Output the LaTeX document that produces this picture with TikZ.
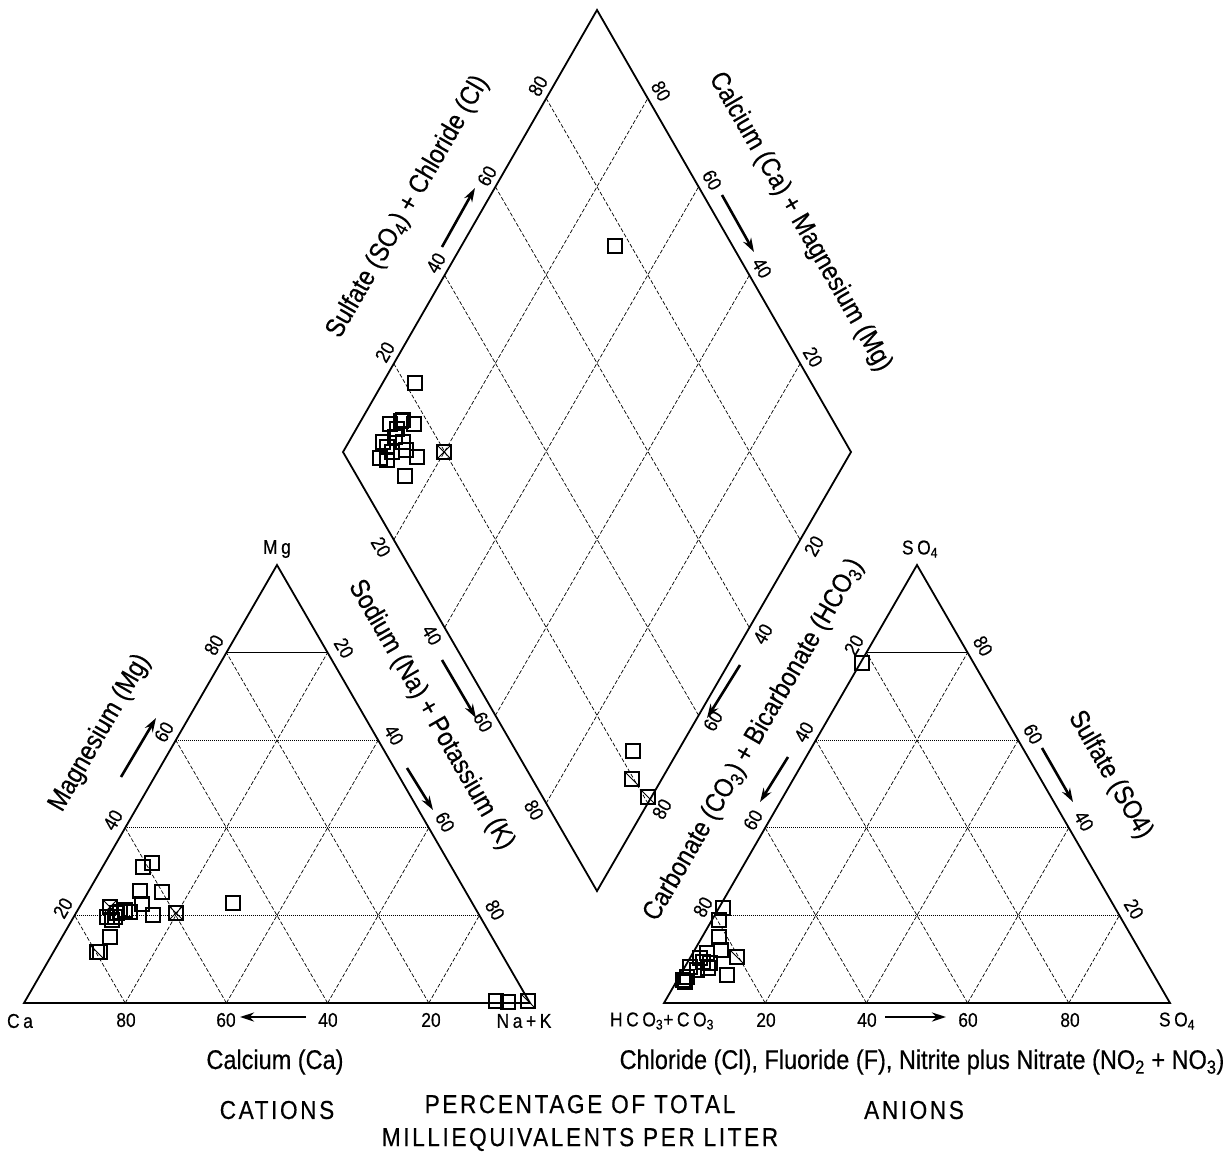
\documentclass[tikz,border=0pt]{standalone}
\usepackage{fontspec}
\setmainfont{Liberation Sans}[FakeStretch=0.87,FakeBold=0.4]
\usetikzlibrary{calc,arrows.meta}
\begin{document}
\begin{tikzpicture}[x=1pt,y=-1pt,
  frame/.style={line width=1.8pt, line join=miter},
  gridd/.style={line width=0.7pt, dash pattern=on 4pt off 2pt},
  gridh/.style={line width=0.7pt, dash pattern=on 1.2pt off 0.8pt},
  tick/.style={font=\fontsize{20}{20}\selectfont, inner sep=0pt},
  corner/.style={font=\fontsize{20}{20}\selectfont\addfontfeature{LetterSpace=18}, inner sep=0pt},
  axt/.style={font=\fontsize{27}{27}\selectfont, inner sep=0pt},
  big/.style={font=\fontsize{26}{33}\selectfont\addfontfeature{LetterSpace=10}, inner sep=0pt, align=center},
  arr/.style={line width=2.6pt, -{Stealth[length=14pt,width=9pt]}},
  pt/.style={draw, line width=1.3pt, minimum size=14pt, inner sep=0pt},
  pts/.style={pt, path picture={\draw[line width=0.8pt] (path picture bounding box.north west) -- (path picture bounding box.south east);}},
  ptx/.style={pt, path picture={\draw[line width=0.8pt] (path picture bounding box.north west) -- (path picture bounding box.south east) (path picture bounding box.north east) -- (path picture bounding box.south west);}}
]
\useasboundingbox (0,0) rectangle (1224,1152);
% ---------- corners ----------
\coordinate (Ca) at (24,1003);
\coordinate (NK) at (530,1003);
\coordinate (Mg) at (277,565);
\coordinate (HC) at (664,1003);
\coordinate (SR) at (1170,1003);
\coordinate (SA) at (917,565);
\coordinate (Dt) at (597,10);
\coordinate (Dl) at (343,452);
\coordinate (Dr) at (851,452);
\coordinate (Db) at (597,891);
% ---------- grids ----------
\foreach \k in {0.2,0.4,0.6,0.8}{
  \draw[gridh] ($(Ca)!\k!(Mg)$) -- ($(NK)!\k!(Mg)$);
  \draw[gridd] ($(Ca)!\k!(NK)$) -- ($(Mg)!\k!(NK)$);
  \draw[gridd] ($(NK)!\k!(Ca)$) -- ($(Mg)!\k!(Ca)$);
  \draw[gridh] ($(HC)!\k!(SA)$) -- ($(SR)!\k!(SA)$);
  \draw[gridd] ($(HC)!\k!(SR)$) -- ($(SA)!\k!(SR)$);
  \draw[gridd] ($(SR)!\k!(HC)$) -- ($(SA)!\k!(HC)$);
  \draw[gridd] ($(Dl)!\k!(Db)$) -- ($(Dt)!\k!(Dr)$);
  \draw[gridd] ($(Dt)!\k!(Dl)$) -- ($(Dr)!\k!(Db)$);
}
\draw[frame] (Ca) -- (NK) -- (Mg) -- cycle;
\draw[frame] (HC) -- (SR) -- (SA) -- cycle;
\draw[frame] (Dt) -- (Dr) -- (Db) -- (Dl) -- cycle;
% ---------- corner labels ----------
\node[corner] (lMg) at (277,549) {Mg};
\node[corner] (lCa) at (20,1021) {Ca};
\node[corner] (lNK) at (524,1021) {Na+K};
\node[corner] (lSA) at (920,549) {SO\textsubscript{4}};
\node[corner] (lHC) at (662,1021) {HCO\textsubscript{3}+CO\textsubscript{3}};
\node[corner] (lSR) at (1177,1021) {SO\textsubscript{4}};
% ---------- tick labels ----------
% left triangle
\foreach \v/\x/\y in {20/63/908, 40/113/820, 60/164/732, 80/214/645}
  \node[tick, rotate=60] (tL\v) at (\x,\y) {\v};
\foreach \v/\x/\y in {20/344/648, 40/394/735, 60/445/822, 80/495/910}
  \node[tick, rotate=-60] (tR\v) at (\x,\y) {\v};
\foreach \v/\x in {80/126, 60/226, 40/328, 20/431}
  \node[tick] (tB\v) at (\x,1020) {\v};
% right triangle
\foreach \v/\x/\y in {20/854/645, 40/804/732, 60/753/820, 80/703/907}
  \node[tick, rotate=60] (sL\v) at (\x,\y) {\v};
\foreach \v/\x/\y in {80/983/646, 60/1033/734, 40/1084/821, 20/1134/909}
  \node[tick, rotate=-60] (sR\v) at (\x,\y) {\v};
\foreach \v/\x in {20/766, 40/867, 60/968, 80/1070}
  \node[tick] (sB\v) at (\x,1020) {\v};
% diamond
\foreach \v/\x/\y in {20/385/352, 40/436/263, 60/487/176, 80/538/86}
  \node[tick, rotate=60] (dUL\v) at (\x,\y) {\v};
\foreach \v/\x/\y in {80/661/91, 60/712/180, 40/762/268, 20/813/357}
  \node[tick, rotate=-60] (dUR\v) at (\x,\y) {\v};
\foreach \v/\x/\y in {20/381/547, 40/432/635, 60/483/722, 80/534/810}
  \node[tick, rotate=-60] (dLL\v) at (\x,\y) {\v};
\foreach \v/\x/\y in {20/814/546, 40/763/634, 60/713/721, 80/662/809}
  \node[tick, rotate=60] (dLR\v) at (\x,\y) {\v};
% ---------- arrows ----------
\coordinate (a1s) at (121,777); \coordinate (a1e) at (156,718);
\coordinate (a2s) at (407,768); \coordinate (a2e) at (433,810);
\coordinate (a3s) at (306,1017); \coordinate (a3e) at (240,1017);
\coordinate (a4s) at (442,247); \coordinate (a4e) at (475,188);
\coordinate (a5s) at (722,195); \coordinate (a5e) at (754,252);
\coordinate (a6s) at (442,660); \coordinate (a6e) at (476,718);
\coordinate (a7s) at (740,665); \coordinate (a7e) at (707,718);
\coordinate (a8s) at (788,757); \coordinate (a8e) at (760,802);
\coordinate (a9s) at (1042,748); \coordinate (a9e) at (1073,802);
\coordinate (a10s) at (885,1017); \coordinate (a10e) at (946,1017);
\foreach \i in {1,...,10} \draw[arr] (a\i s) -- (a\i e);
% ---------- axis titles ----------
\node[axt, rotate=60] (tMg) at (100,733) {Magnesium (Mg)};
\node[axt, rotate=-60] (tNa) at (431,715) {Sodium (Na) + Potassium (K)};
\node[axt, rotate=60] (tSC) at (408,207) {Sulfate (SO\textsubscript{4}) + Chloride (Cl)};
\node[axt, rotate=-60] (tCM) at (800,222) {Calcium (Ca) + Magnesium (Mg)};
\node[axt, rotate=60] (tCB) at (754,740) {Carbonate (CO\textsubscript{3}) + Bicarbonate (HCO\textsubscript{3})};
\node[axt, rotate=-60] (tSO) at (1110,775) {Sulfate (SO4)};
\node[axt] (tCa) at (275,1062) {Calcium (Ca)};
\node[axt] (tCl) at (922,1062) {Chloride (Cl), Fluoride (F), Nitrite plus Nitrate (NO\textsubscript{2} + NO\textsubscript{3})};
\node[big] (tCat) at (277,1110) {CATIONS};
\node[big] (tPct) at (580,1123) {PERCENTAGE OF TOTAL\\MILLIEQUIVALENTS PER LITER};
\node[big] (tAn) at (914,1110) {ANIONS};
% ---------- data points ----------
\foreach \x/\y [count=\n] in {415/383, 390/424, 401/421, 403/420, 414/424, 397/429, 383/442,
   387/447, 403/442, 406/450, 417/457, 380/458, 387/460, 405/476, 395/437, 392/452,
   615/246, 633/751}
  \node[pt] (dp\n) at (\x,\y) {};
\node[ptx] (dx1) at (444,452) {};
\node[pts] (dx2) at (632,779) {};
\node[pts] (dx3) at (648,797) {};
\foreach \x/\y [count=\n] in {152/863, 143/867, 140/891, 162/892, 233/903, 142/904, 130/912,
   153/915, 115/917, 107/917, 112/920, 110/937, 100/952, 120/912, 125/910, 117/913,
   496/1001, 508/1002}
  \node[pt] (lp\n) at (\x,\y) {};
\node[ptx] (lx1) at (110,907) {};
\node[ptx] (lx2) at (176,913) {};
\node[pts] (lx3) at (97,952) {};
\node[pts] (lx4) at (528,1001) {};
\foreach \x/\y [count=\n] in {862/663, 723/908, 719/920, 719/937, 721/950, 707/953, 700/958,
   710/963, 727/975, 708/968, 690/967, 697/970, 687/977, 683/980, 685/982, 703/962}
  \node[pt] (rp\n) at (\x,\y) {};
\node[pts] (rx1) at (737,957) {};
\end{tikzpicture}
\end{document}
